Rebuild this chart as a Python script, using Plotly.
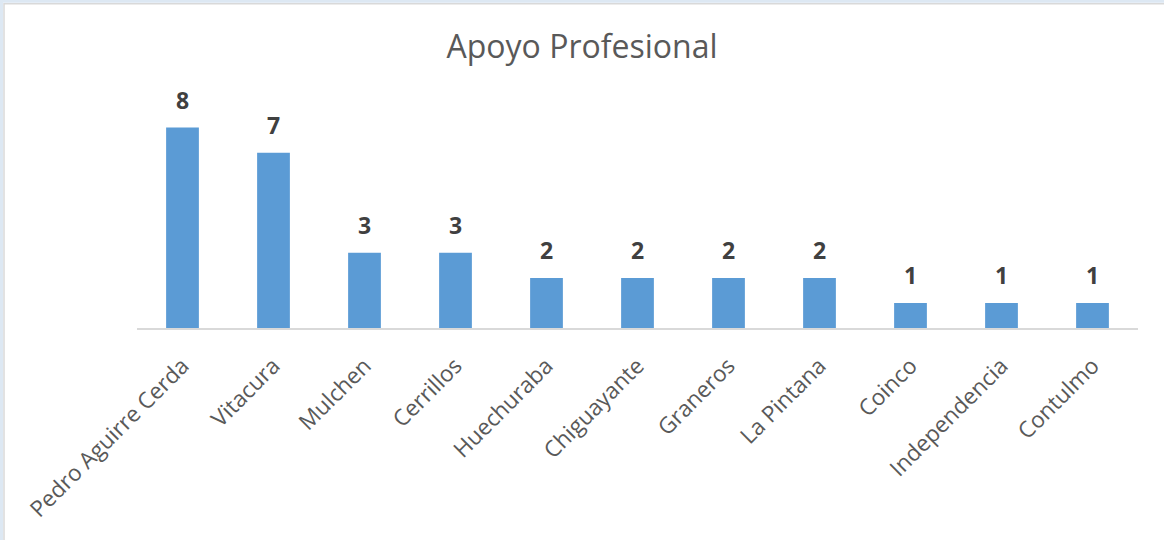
import plotly.graph_objects as go

categories = ["Pedro Aguirre Cerda", "Vitacura", "Mulchen", "Cerrillos", "Huechuraba",
              "Chiguayante", "Graneros", "La Pintana", "Coinco", "Independencia", "Contulmo"]
values = [8, 7, 3, 3, 2, 2, 2, 2, 1, 1, 1]
title_text = "Apoyo Profesional"

BAR = "#5B9BD5"
FONT = "Open Sans, Segoe UI, Calibri, sans-serif"

fig = go.Figure()
fig.add_trace(go.Bar(x=categories, y=values, marker=dict(color=BAR, line=dict(width=0)),
                     hoverinfo="x+y"))

annotations = []
for c, v in zip(categories, values):
    annotations.append(dict(x=c, y=v, xref="x", yref="y", text=f"<b>{v}</b>",
                            showarrow=False, yshift=28, yanchor="middle",
                            font=dict(family=FONT, size=23, color="#404040")))

fig.update_layout(
    width=1164, height=540,
    margin=dict(l=137, r=26, t=90, b=212),
    paper_bgcolor="white", plot_bgcolor="white",
    bargap=0.64,
    showlegend=False,
    title=dict(text=title_text, x=0.5, xref="container", xanchor="center",
               y=1 - 47 / 540, yref="container", yanchor="middle",
               font=dict(family=FONT, size=32, color="#595959")),
    annotations=annotations,
    xaxis=dict(tickangle=-45, showgrid=False, showline=True, linecolor="#D9D9D9",
               linewidth=1.5, ticks="", ticklabelstandoff=14,
               tickfont=dict(family=FONT, size=22.5, color="#595959")),
    yaxis=dict(range=[0, 9.5], visible=False, showgrid=False, zeroline=False),
    shapes=[
        dict(type="rect", xref="paper", yref="paper", x0=-137/1001 + 1.5/1001, x1=1.5,
             y0=-2, y1=1 + (90 - 1.5) / 237.5,
             line=dict(color="#DDE8F3", width=3), fillcolor="rgba(0,0,0,0)", layer="above"),
        dict(type="rect", xref="paper", yref="paper", x0=-137/1001 + 4/1001, x1=1.5,
             y0=-2, y1=1 + (90 - 4) / 237.5,
             line=dict(color="#D9D9D9", width=1.5), fillcolor="rgba(0,0,0,0)", layer="above"),
    ],
)

fig.write_html("out.html", config={"displayModeBar": False},
               post_script="document.body.style.margin='0';")
